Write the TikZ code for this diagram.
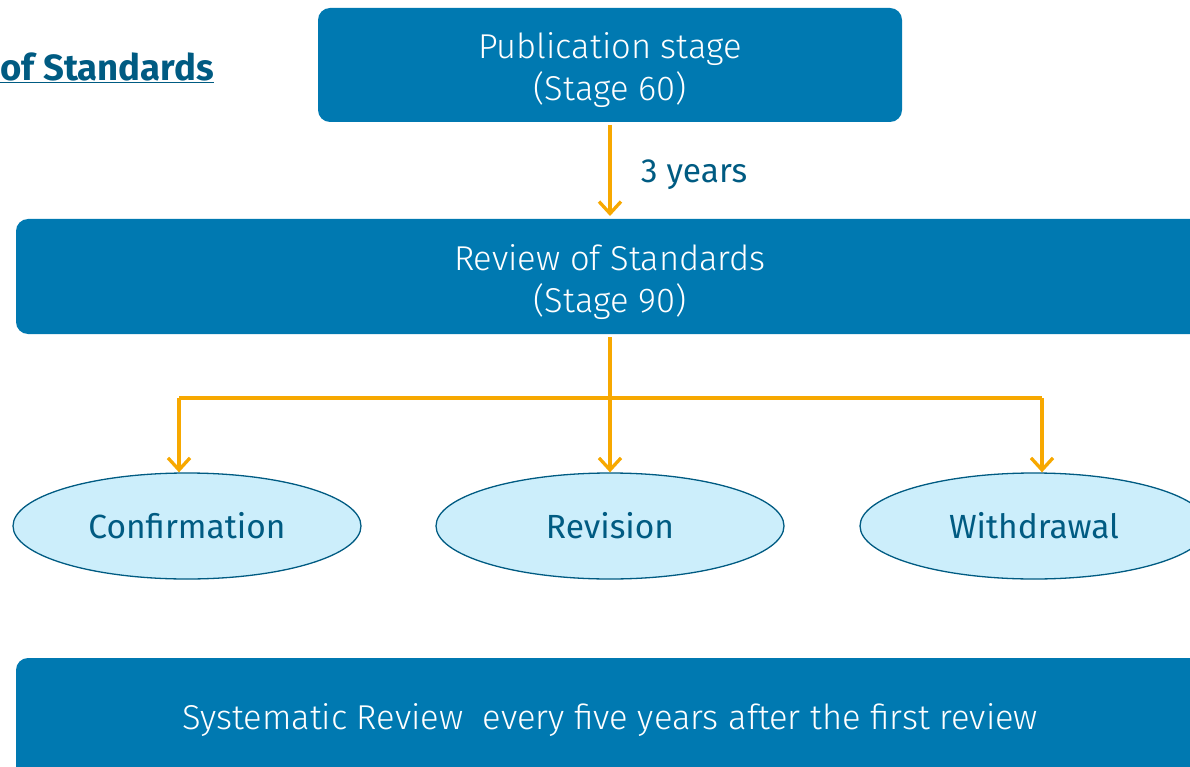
\documentclass[tikz,border=0pt]{standalone}
\usepackage{fontspec}
\setmainfont{Fira Sans}
\newfontfamily\lightfont{Fira Sans Light}
\usetikzlibrary{shapes.geometric,arrows.meta}
\definecolor{boxblue}{HTML}{0079B1}
\definecolor{darkblue}{HTML}{005B82}
\definecolor{arrowor}{HTML}{F7A800}
\definecolor{ellfill}{HTML}{CCEEFB}
\tikzset{
  bluebox/.style={fill=boxblue, rounded corners=12pt, draw=none},
  boxtext/.style={text=white, font=\lightfont\fontsize{34.5}{42}\selectfont, align=center},
  conn/.style={draw=arrowor, line width=3.3pt, -{Straight Barb[length=12pt,width=22pt,line width=3.3pt]}},
  plainconn/.style={draw=arrowor, line width=3.3pt},
  outcome/.style={ellipse, draw=darkblue, line width=1.3pt, fill=ellfill, minimum width=348pt, minimum height=106pt, inner sep=0pt, text=darkblue, font=\fontsize{33.5}{40}\selectfont},
}
\begin{document}
\begin{tikzpicture}[x=1pt,y=-1pt]
\useasboundingbox (0,0) rectangle (1190,767);
\clip (0,0) rectangle (1190,767);
% boxes
\fill[bluebox] (318,8) rectangle (902,122);
\node[boxtext] (pub) at (610,70) {Publication stage\\(Stage 60)};
\fill[bluebox] (16,219) rectangle (1220,334);
\node[boxtext] (rev) at (610,282) {Review of Standards\\(Stage 90)};
\fill[bluebox] (16,658) rectangle (1220,800);
\node[boxtext] (sys) at (610,720) {Systematic Review\ \ every five years after the first review};
% title
\node[anchor=west, inner sep=0pt, text=darkblue, font=\bfseries\fontsize{36.5}{42}\selectfont] (title) at (0,68) {\underline{of Standards}};
% ellipses
\node[outcome] (conf) at (187,526) {Confirmation};
\node[outcome] (revi) at (610,526) {Revision};
\node[outcome] (with) at (1034,526) {Withdrawal};
% connectors
\coordinate (pubb) at (610,125);
\coordinate (revt) at (610,216);
\draw[conn] (pubb) -- (revt) node[midway, anchor=west, xshift=26pt, yshift=-4pt, text=darkblue, font=\fontsize{33.5}{40}\selectfont] (yrs) {3 years};
\coordinate (revb) at (610,337);
\coordinate (jl) at (179,398);
\coordinate (jr) at (1042,398);
\draw[plainconn] (jl) -- (jr);
\draw[conn] (revb) -- (revi.north);
\draw[conn] (jl) -- (jl |- conf.north);
\draw[conn] (jr) -- (jr |- with.north);
\end{tikzpicture}
\end{document}
